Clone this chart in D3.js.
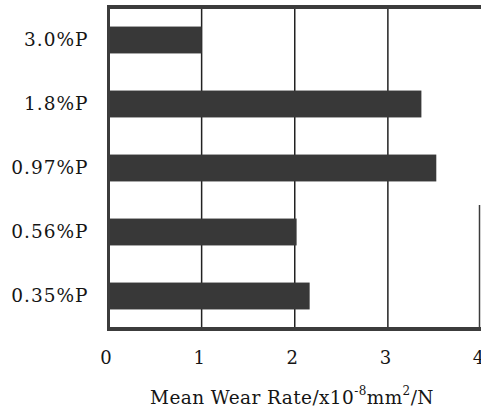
<!DOCTYPE html>
<html>
<head>
<meta charset="utf-8">
<script src="https://cdn.jsdelivr.net/npm/d3@7"></script>
<style>
  body { margin: 0; background: #fff; }
  svg { display: block; }
  .tick text { font-family: "DejaVu Serif", serif; fill: #151515; }
</style>
</head>
<body>
<div id="chart"></div>
<script>
// categories, top to bottom
const samples = ['3.0%P', '1.8%P', '0.97%P', '0.56%P', '0.35%P'];
// mean wear rate, x10^-8 mm2/N
const wearRate = [1.0, 3.36, 3.52, 2.02, 2.16];
const xTicks = [0, 1, 2, 3, 4];

const width = 481, height = 412;
const plotLeft = 108.5, plotRight = 481, plotTop = 8, plotBottom = 328;

const svg = d3.select('#chart').append('svg')
    .attr('width', width)
    .attr('height', height);

const x = d3.scaleLinear().domain([0, 4]).range([plotLeft, plotRight]);
const y = d3.scaleBand().domain(samples).range([plotTop, plotBottom])
    .paddingInner(0.58).paddingOuter(0.29);

// grid lines
svg.append('g')
    .selectAll('line')
    .data(xTicks.filter(d => d > 0 && d < 4))
    .join('line')
    .attr('x1', d => x(d)).attr('x2', d => x(d))
    .attr('y1', plotTop).attr('y2', plotBottom)
    .attr('stroke', '#222')
    .attr('stroke-width', 1.5);

// bars
svg.append('g')
    .selectAll('rect')
    .data(samples)
    .join('rect')
    .attr('x', x(0))
    .attr('y', d => y(d))
    .attr('width', (d, i) => x(wearRate[i]) - x(0))
    .attr('height', y.bandwidth())
    .attr('fill', '#383838');

// frame
const frame = svg.append('g').attr('stroke', '#3c3c3c');
frame.append('line').attr('x1', plotLeft).attr('x2', width).attr('y1', plotTop - 1).attr('y2', plotTop - 1).attr('stroke-width', 4);
frame.append('line').attr('x1', plotLeft).attr('x2', width).attr('y1', plotBottom + 1).attr('y2', plotBottom + 1).attr('stroke-width', 4);
frame.append('line').attr('x1', plotLeft).attr('x2', plotLeft).attr('y1', plotTop - 3).attr('y2', plotBottom + 3).attr('stroke-width', 3);
frame.append('line').attr('x1', x(4) - 1.5).attr('x2', x(4) - 1.5).attr('y1', 205).attr('y2', plotBottom).attr('stroke-width', 1.5);

// x axis labels
const xAxis = svg.append('g')
    .attr('transform', `translate(-3,${plotBottom + 20})`)
    .call(d3.axisBottom(x).tickValues(xTicks).tickFormat(d3.format('d')).tickSize(0));
xAxis.select('.domain').remove();
xAxis.selectAll('text').attr('font-size', 18);

// y axis labels
const yAxis = svg.append('g')
    .attr('transform', `translate(${plotLeft - 17},0)`)
    .call(d3.axisLeft(y).tickSize(0));
yAxis.select('.domain').remove();
yAxis.selectAll('text').attr('font-size', 18.5).attr('letter-spacing', 1);

// x title
const title = svg.append('text')
    .attr('x', 292)
    .attr('y', 404)
    .attr('text-anchor', 'middle')
    .attr('font-family', '"DejaVu Serif", serif')
    .attr('font-size', 18.5)
    .attr('letter-spacing', 0.4)
    .attr('fill', '#151515');
title.append('tspan').text('Mean Wear Rate/x10');
title.append('tspan').attr('font-size', 12).attr('dy', -9).text('-8');
title.append('tspan').attr('dy', 9).text('mm');
title.append('tspan').attr('font-size', 12).attr('dy', -9).text('2');
title.append('tspan').attr('dy', 9).text('/N');
</script>
</body>
</html>
